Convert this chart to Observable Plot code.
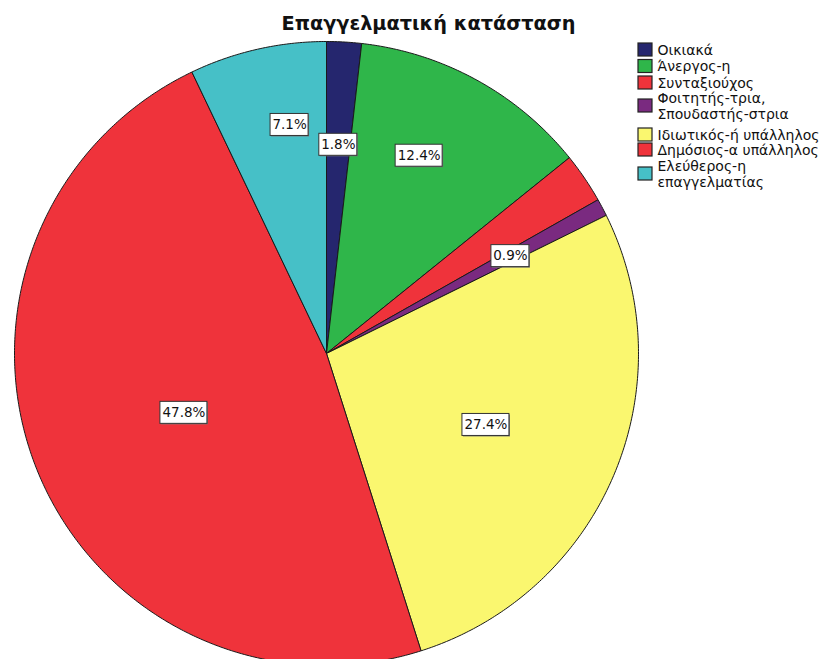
<!DOCTYPE html>
<html><head><meta charset="utf-8">
<script src="https://cdn.jsdelivr.net/npm/d3@7"></script>
<script src="https://cdn.jsdelivr.net/npm/@observablehq/plot@0.6"></script>
<style>body{margin:0;background:#fff}svg{display:block}</style>
</head><body><div id="chart"></div>
<script>
const title = "Επαγγελματική κατάσταση";
const categories = ["Οικιακά","Άνεργος-η","Συνταξιούχος","Φοιτητής-τρια,\nΣπουδαστής-στρια","Ιδιωτικός-ή υπάλληλος","Δημόσιος-α υπάλληλος","Ελεύθερος-η\nεπαγγελματίας"];
const percents = [1.8,12.4,2.6,0.9,27.4,47.8,7.1];
const shownLabels = [true,true,false,true,true,true,true];
const colors = ["#25266e","#2fb64a","#ef333b","#7a2a80","#faf76f","#ef333b","#46c0c7"];

// layout (not data)
const W = 829, H = 659, cx = 326, cy = 353, R = 312;
const labelR = [0.67,0.70,0,0.667,0.56,0.495,0.742];
const labelShiftDeg = [0,-3.7,0,0,1.1,-1,3.6];
const legendY = [49.5,66,82.5,105.5,134.5,149.5,173.5];

const total = d3.sum(percents);
let acc = 0;
const slices = percents.map((p,i)=>{
  const a0 = acc/total*2*Math.PI; acc += p; const a1 = acc/total*2*Math.PI;
  return {i, cat: categories[i], p, a0, a1};
});
const pts = [];
for (const s of slices) {
  pts.push({cat:s.cat, x:cx, y:cy});
  const n = Math.max(2, Math.ceil((s.a1-s.a0)/(Math.PI/360)));
  for (let k=0;k<=n;k++){
    const a = s.a0 + (s.a1-s.a0)*k/n;
    pts.push({cat:s.cat, x:cx+R*Math.sin(a), y:cy-R*Math.cos(a)});
  }
  pts.push({cat:s.cat, x:cx, y:cy});
}
const labels = slices.filter((s)=>shownLabels[s.i]).map(s=>{
  const a = (s.a0+s.a1)/2 + labelShiftDeg[s.i]*Math.PI/180;
  const r = labelR[s.i]*R;
  const text = s.p.toFixed(1) + "%";
  return {text, x: cx + r*Math.sin(a), y: cy - r*Math.cos(a), w: 9*text.length+2, h: 22};
});
const legend = categories.map((c,i)=>({cat:c, y: legendY[i]}));

const chart = Plot.plot({
  width: W, height: H, margin: 0,
  x: {domain:[0,W], range:[0,W], axis:null},
  y: {domain:[0,H], range:[0,H], axis:null},
  color: {domain: categories, range: colors},
  style: {fontFamily: "DejaVu Sans", background: "white"},
  marks: [
    Plot.line(pts, {x:"x", y:"y", z:"cat", fill:"cat", stroke:"#1a1a1a", strokeWidth:1, strokeLinejoin:"round"}),
    Plot.rect(labels, {x1:d=>d.x-d.w/2+1, x2:d=>d.x+d.w/2+1, y1:d=>d.y-d.h/2+1, y2:d=>d.y+d.h/2+1, fill:"#777"}),
    Plot.rect(labels, {x1:d=>d.x-d.w/2, x2:d=>d.x+d.w/2, y1:d=>d.y-d.h/2, y2:d=>d.y+d.h/2, fill:"white", stroke:"#333", strokeWidth:1}),
    Plot.text(labels, {x:"x", y:"y", text:"text", fontSize:13.5, fill:"#111"}),
    Plot.rect(legend, {x1:638, x2:652, y1:d=>d.y-6.5, y2:d=>d.y+6.5, fill:"cat", stroke:"#222", strokeWidth:1.2}),
    Plot.text(legend, {x:657, y:"y", text:"cat", textAnchor:"start", lineAnchor:"middle", fontSize:14, lineHeight:1.1, fill:"#111"}),
    Plot.text([title], {x:428, y:23, text:d=>d, fontSize:19.3, fontWeight:"bold", fill:"#111"})
  ]
});
document.getElementById("chart").append(chart);
</script>
</body></html>
